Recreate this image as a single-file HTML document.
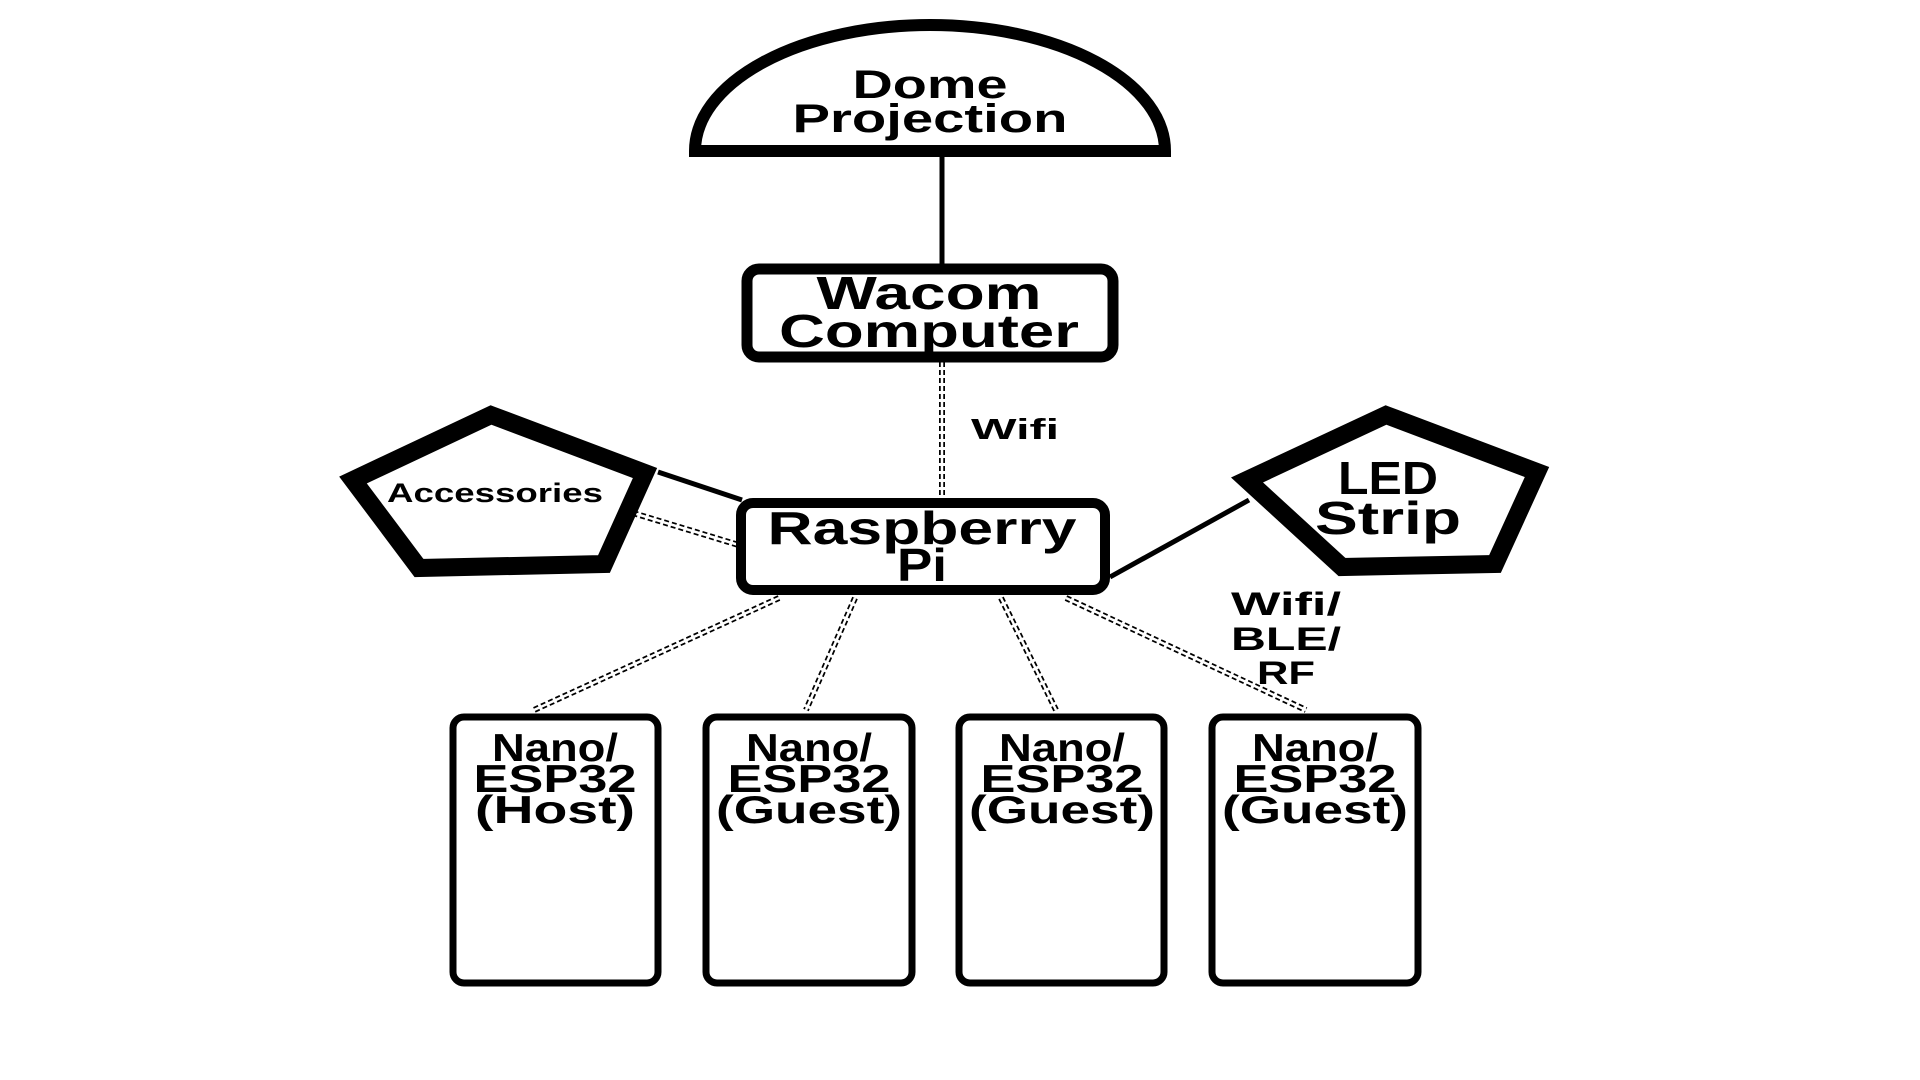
<!DOCTYPE html>
<html><head><meta charset="utf-8"><style>html,body{margin:0;padding:0;background:#fff}svg{display:block}</style></head>
<body>
<svg width="1920" height="1080" viewBox="0 0 1920 1080" xmlns="http://www.w3.org/2000/svg" font-family="'Liberation Sans', sans-serif" font-weight="bold" text-anchor="middle">
<rect width="1920" height="1080" fill="#fff"/>
<g transform="translate(-10,-7)">
<line x1="952" y1="160" x2="952" y2="272" stroke="#000" stroke-width="5"/>
<line x1="668" y1="479" x2="752" y2="507" stroke="#000" stroke-width="5"/>
<line x1="1259" y1="507" x2="1120" y2="584" stroke="#000" stroke-width="5"/>
<g stroke="#000" stroke-width="6" stroke-dasharray="5 3" fill="none">
<line x1="952" y1="369" x2="952" y2="505"/>
<line x1="643" y1="520" x2="752" y2="553"/>
<line x1="789" y1="605" x2="544" y2="717"/>
<line x1="865" y1="605" x2="816" y2="717"/>
<line x1="1011" y1="605" x2="1066" y2="717"/>
<line x1="1076" y1="605" x2="1316" y2="717"/>
</g>
<g stroke="#fff" stroke-width="2.5" fill="none">
<line x1="952" y1="369" x2="952" y2="505"/>
<line x1="643" y1="520" x2="752" y2="553"/>
<line x1="789" y1="605" x2="544" y2="717"/>
<line x1="865" y1="605" x2="816" y2="717"/>
<line x1="1011" y1="605" x2="1066" y2="717"/>
<line x1="1076" y1="605" x2="1316" y2="717"/>
</g>
<path d="M705 158 A235 126 0 0 1 1175 158 Z" fill="#fff" stroke="#000" stroke-width="12"/>
<text x="940" y="105" font-size="40" textLength="155" lengthAdjust="spacingAndGlyphs">Dome</text>
<text x="940" y="139" font-size="40" textLength="275" lengthAdjust="spacingAndGlyphs">Projection</text>
<rect x="757" y="276" width="366" height="88" rx="12" fill="#fff" stroke="#000" stroke-width="11"/>
<text x="939" y="316" font-size="46" textLength="225" lengthAdjust="spacingAndGlyphs">Wacom</text>
<text x="939" y="354" font-size="46" textLength="300" lengthAdjust="spacingAndGlyphs">Computer</text>
<text x="1025" y="446" font-size="29" textLength="88" lengthAdjust="spacingAndGlyphs">Wifi</text>
<rect x="751" y="510" width="364" height="87" rx="12" fill="#fff" stroke="#000" stroke-width="10"/>
<text x="932" y="551" font-size="46" textLength="309" lengthAdjust="spacingAndGlyphs">Raspberry</text>
<text x="932" y="588" font-size="46" textLength="50" lengthAdjust="spacingAndGlyphs">Pi</text>
<polygon points="501,422 655,480 614,571 429,575 363,487" fill="#fff" stroke="#000" stroke-width="18" stroke-linejoin="miter"/>
<text x="505" y="509" font-size="27" textLength="216" lengthAdjust="spacingAndGlyphs">Accessories</text>
<polygon points="1396,422 1547,479 1505,571 1352,574 1257,487" fill="#fff" stroke="#000" stroke-width="18" stroke-linejoin="miter"/>
<text x="1398" y="501" font-size="46" textLength="100" lengthAdjust="spacingAndGlyphs">LED</text>
<text x="1398" y="541" font-size="46" textLength="146" lengthAdjust="spacingAndGlyphs">Strip</text>
<text x="1296" y="622" font-size="32" textLength="110" lengthAdjust="spacingAndGlyphs">Wifi/</text>
<text x="1296" y="657" font-size="32" textLength="110" lengthAdjust="spacingAndGlyphs">BLE/</text>
<text x="1296" y="691" font-size="32" textLength="58" lengthAdjust="spacingAndGlyphs">RF</text>
<g fill="#fff" stroke="#000" stroke-width="7">
<rect x="463" y="724" width="205" height="266" rx="11"/>
<rect x="716" y="724" width="206" height="266" rx="11"/>
<rect x="969" y="724" width="205" height="266" rx="11"/>
<rect x="1222" y="724" width="206" height="266" rx="11"/>
</g>
<g font-size="39">
<text x="565" y="768" textLength="126" lengthAdjust="spacingAndGlyphs">Nano/</text>
<text x="565" y="799" textLength="163" lengthAdjust="spacingAndGlyphs">ESP32</text>
<text x="565" y="830" textLength="160" lengthAdjust="spacingAndGlyphs">(Host)</text>
<text x="819" y="768" textLength="126" lengthAdjust="spacingAndGlyphs">Nano/</text>
<text x="819" y="799" textLength="163" lengthAdjust="spacingAndGlyphs">ESP32</text>
<text x="819" y="830" textLength="186" lengthAdjust="spacingAndGlyphs">(Guest)</text>
<text x="1072" y="768" textLength="126" lengthAdjust="spacingAndGlyphs">Nano/</text>
<text x="1072" y="799" textLength="163" lengthAdjust="spacingAndGlyphs">ESP32</text>
<text x="1072" y="830" textLength="186" lengthAdjust="spacingAndGlyphs">(Guest)</text>
<text x="1325" y="768" textLength="126" lengthAdjust="spacingAndGlyphs">Nano/</text>
<text x="1325" y="799" textLength="163" lengthAdjust="spacingAndGlyphs">ESP32</text>
<text x="1325" y="830" textLength="186" lengthAdjust="spacingAndGlyphs">(Guest)</text>
</g>
</g>
</svg>
</body></html>
